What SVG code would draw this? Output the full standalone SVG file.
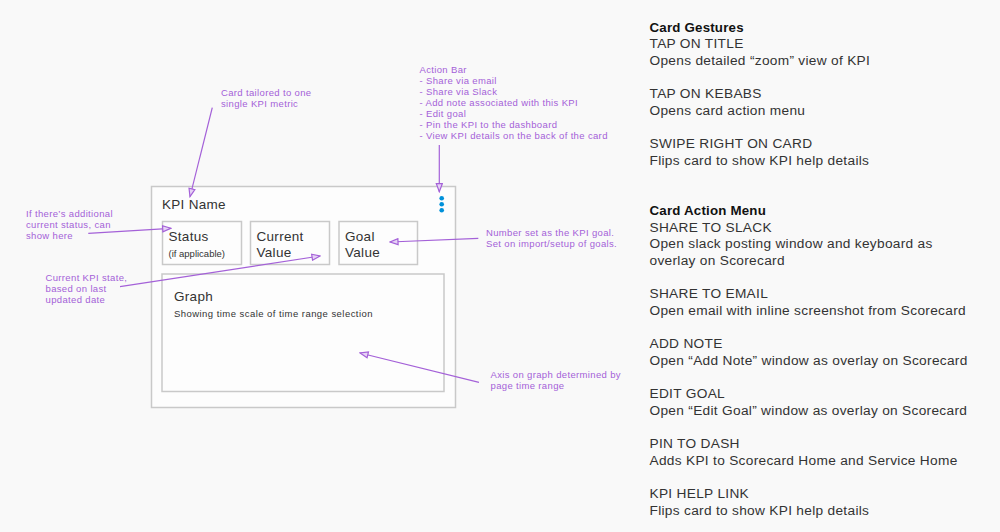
<svg xmlns="http://www.w3.org/2000/svg" width="1000" height="532" viewBox="0 0 1000 532">
<defs>
<marker id="ah" viewBox="0 0 10 8" refX="9" refY="4" markerWidth="10" markerHeight="8" markerUnits="userSpaceOnUse" orient="auto">
<path d="M1,1 L9,4 L1,7 Z" fill="#e6d3f5" stroke="#a461d8" stroke-width="1.2"/>
</marker>
<style>
.bg{fill:#f9f9f9}
.box{fill:#fdfdfd;stroke:#c9c9c9;stroke-width:1.5}
.t{font-family:"Liberation Sans",Arial,sans-serif;fill:#333}
.big{font-size:13.5px;letter-spacing:0.3px}
.sm{font-size:9.5px}
.sm2{font-size:9.5px;letter-spacing:0.45px}
.note{font-family:"Liberation Sans",Arial,sans-serif;font-size:9.5px;letter-spacing:0.35px;fill:#a461d8}
.conn{stroke:#a461d8;stroke-width:1.2;fill:none;marker-end:url(#ah)}
.r{font-family:"Liberation Sans",Arial,sans-serif;font-size:13.7px;letter-spacing:0.3px;fill:#333}
.b{font-weight:bold;fill:#111;font-size:13.3px;letter-spacing:0.2px}
</style>
</defs>
<rect class="bg" x="0" y="0" width="1000" height="532"/>

<g id="card">
<rect class="box" x="151.5" y="186.5" width="304" height="221"/>
<text class="t big" x="162" y="209">KPI Name</text>
</g>
<g id="kebab">
<circle cx="441.7" cy="198.3" r="2.3" fill="#0091da"/>
<circle cx="441.7" cy="204.3" r="2.3" fill="#0091da"/>
<circle cx="441.7" cy="210.3" r="2.3" fill="#0091da"/>
</g>
<g id="status">
<rect class="box" x="162.5" y="221.5" width="79" height="43"/>
<text class="t big" x="168.5" y="240.5">Status</text>
<text class="t sm" x="168.5" y="257">(if applicable)</text>
</g>
<g id="current">
<rect class="box" x="250.5" y="221.5" width="79" height="43"/>
<text class="t big" x="256.5" y="240.5">Current</text>
<text class="t big" x="256.5" y="257">Value</text>
</g>
<g id="goal">
<rect class="box" x="339" y="221.5" width="78.5" height="43"/>
<text class="t big" x="345" y="240.5">Goal</text>
<text class="t big" x="345" y="257">Value</text>
</g>
<g id="graph">
<rect class="box" x="162" y="274" width="282" height="117.5"/>
<text class="t big" x="174" y="301">Graph</text>
<text class="t sm2" x="174" y="317">Showing time scale of time range selection</text>
</g>

<g id="note-card">
<text class="note" x="221" y="96">Card tailored to one</text>
<text class="note" x="221" y="107">single KPI metric</text>
</g>
<g id="note-status">
<text class="note" x="26" y="216.5">If there’s additional</text>
<text class="note" x="26" y="227.5">current status, can</text>
<text class="note" x="26" y="238.5">show here</text>
</g>
<g id="note-current">
<text class="note" x="45.5" y="280.5">Current KPI state,</text>
<text class="note" x="45.5" y="291.5">based on last</text>
<text class="note" x="45.5" y="302.5">updated date</text>
</g>
<g id="note-action">
<text class="note" x="419.5" y="72.5">Action Bar</text>
<text class="note" x="419.5" y="83.5">- Share via email</text>
<text class="note" x="419.5" y="94.5">- Share via Slack</text>
<text class="note" x="419.5" y="105.5">- Add note associated with this KPI</text>
<text class="note" x="419.5" y="116.5">- Edit goal</text>
<text class="note" x="419.5" y="127.5">- Pin the KPI to the dashboard</text>
<text class="note" x="419.5" y="138.5">- View KPI details on the back of the card</text>
</g>
<g id="note-goal">
<text class="note" x="486" y="236">Number set as the KPI goal.</text>
<text class="note" x="486" y="247">Set on import/setup of goals.</text>
</g>
<g id="note-axis">
<text class="note" x="490.5" y="377.5">Axis on graph determined by</text>
<text class="note" x="490.5" y="388.5">page time range</text>
</g>

<g id="connectors">
<line class="conn" x1="212.3" y1="107.7" x2="190" y2="196.7"/>
<line class="conn" x1="88.3" y1="233.3" x2="170.7" y2="228.3"/>
<line class="conn" x1="120" y1="286.7" x2="320" y2="256"/>
<line class="conn" x1="439.3" y1="145" x2="439.3" y2="191.7"/>
<line class="conn" x1="478.3" y1="238.3" x2="390" y2="242"/>
<line class="conn" x1="479" y1="382.3" x2="360" y2="353"/>
</g>

<g id="gestures">
<text class="r b" x="649.5" y="31.7">Card Gestures</text>
<text class="r" x="649.5" y="48.4">TAP ON TITLE</text>
<text class="r" x="649.5" y="65">Opens detailed “zoom” view of KPI</text>
<text class="r" x="649.5" y="98.3">TAP ON KEBABS</text>
<text class="r" x="649.5" y="115">Opens card action menu</text>
<text class="r" x="649.5" y="148.3">SWIPE RIGHT ON CARD</text>
<text class="r" x="649.5" y="165">Flips card to show KPI help details</text>
</g>
<g id="action-menu">
<text class="r b" x="649.5" y="215">Card Action Menu</text>
<text class="r" x="649.5" y="231.6">SHARE TO SLACK</text>
<text class="r" x="649.5" y="248.3">Open slack posting window and keyboard as</text>
<text class="r" x="649.5" y="265">overlay on Scorecard</text>
<text class="r" x="649.5" y="298.3">SHARE TO EMAIL</text>
<text class="r" x="649.5" y="315">Open email with inline screenshot from Scorecard</text>
<text class="r" x="649.5" y="348.2">ADD NOTE</text>
<text class="r" x="649.5" y="364.9">Open “Add Note” window as overlay on Scorecard</text>
<text class="r" x="649.5" y="398.2">EDIT GOAL</text>
<text class="r" x="649.5" y="414.9">Open “Edit Goal” window as overlay on Scorecard</text>
<text class="r" x="649.5" y="448.2">PIN TO DASH</text>
<text class="r" x="649.5" y="464.9">Adds KPI to Scorecard Home and Service Home</text>
<text class="r" x="649.5" y="498.2">KPI HELP LINK</text>
<text class="r" x="649.5" y="514.9">Flips card to show KPI help details</text>
</g>
</svg>
